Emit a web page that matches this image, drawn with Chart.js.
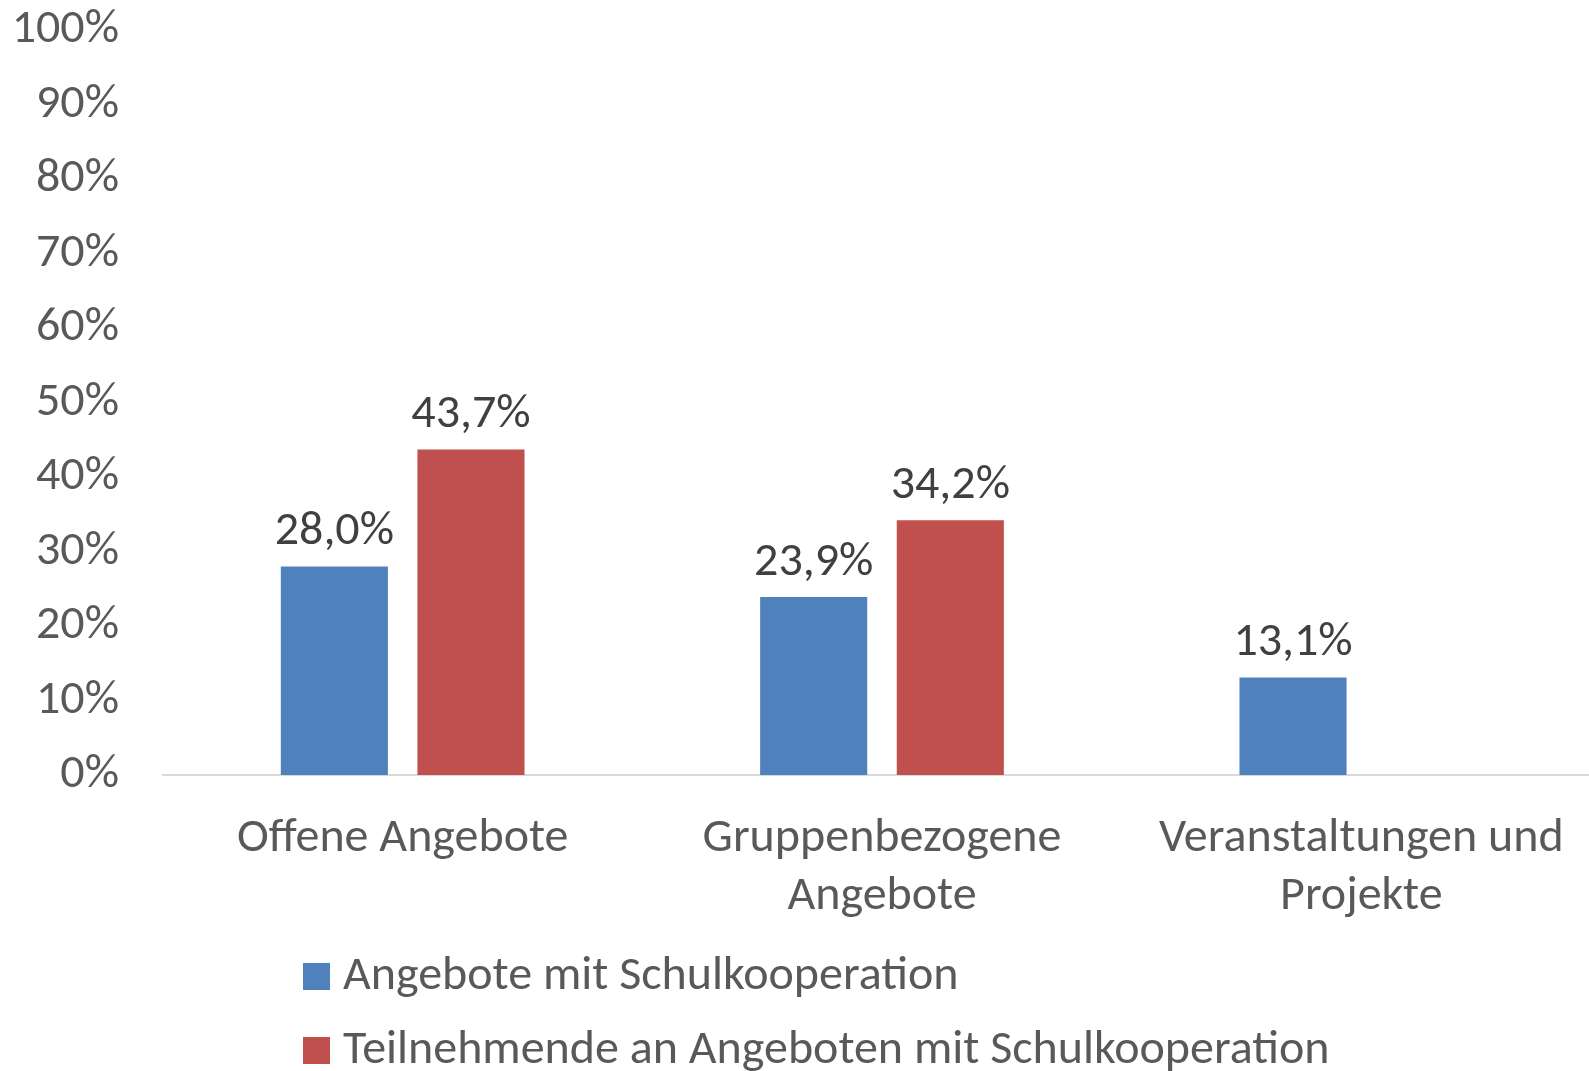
<!DOCTYPE html>
<html>
<head>
<meta charset="utf-8">
<script src="https://cdn.jsdelivr.net/npm/chart.js@4.4.1/dist/chart.umd.min.js"></script>
<style>
  body{margin:0;background:#fff;overflow:hidden;}
  canvas{display:block;}
</style>
</head>
<body>
<canvas id="myChart" width="1601" height="1071"></canvas>
<script>
const categories=["Offene Angebote",["Gruppenbezogene","Angebote"],["Veranstaltungen und","Projekte"]];
const seriesNames=["Angebote mit Schulkooperation","Teilnehmende an Angeboten mit Schulkooperation"];
const schulkooperation=[28.0,23.9,13.1];
const teilnehmende=[43.7,34.2,null];
const yTicks=[0,10,20,30,40,50,60,70,80,90,100];

const fontFamily="Carlito, Calibri, Lato, sans-serif";
const fontSize=48;

// value labels above each bar, german decimal comma
const valueLabels={
  id:'valueLabels',
  afterDatasetsDraw(chart){
    const ctx=chart.ctx;
    ctx.save();
    ctx.font=`${fontSize}px ${fontFamily}`;
    ctx.fillStyle='#404040';
    ctx.textAlign='center';
    ctx.textBaseline='alphabetic';
    chart.data.datasets.forEach((ds,i)=>{
      chart.getDatasetMeta(i).data.forEach((bar,j)=>{
        let v=ds.data[j];
        if(v==null) return;
        ctx.fillText(v.toFixed(1).replace('.',',')+'%',bar.x,bar.y-22);
      });
    });
    ctx.restore();
  }
};

// legend stacked at the bottom left, one item per line
const stackedLegend={
  id:'stackedLegend',
  afterDraw(chart){
    const ctx=chart.ctx;
    ctx.save();
    ctx.font=`${fontSize}px ${fontFamily}`;
    ctx.textBaseline='middle';
    ctx.textAlign='left';
    chart.data.datasets.forEach((ds,i)=>{
      let y=963+i*74;
      ctx.fillStyle=ds.backgroundColor;
      ctx.fillRect(303,y,27,27);
      ctx.fillStyle='#595959';
      ctx.fillText(ds.label,343,y+14);
    });
    ctx.restore();
  }
};

const ctx=document.getElementById('myChart');
new Chart(ctx,{
  type:'bar',
  data:{
    labels:categories,
    datasets:[
      {label:seriesNames[0],data:schulkooperation,backgroundColor:'#4F81BD'},
      {label:seriesNames[1],data:teilnehmende,backgroundColor:'#C0504D'}
    ]
  },
  options:{
    responsive:false,
    animation:false,
    datasets:{bar:{categoryPercentage:0.57,barPercentage:0.784}},
    layout:{padding:{left:13,top:30,right:0,bottom:148}},
    plugins:{legend:{display:false},tooltip:{enabled:false}},
    scales:{
      x:{
        grid:{display:false},
        border:{display:true,color:'#D9D9D9',width:2},
        afterFit(scale){
          scale.paddingLeft=0;
          scale.paddingRight=0;
          scale.height=148;
        },
        ticks:{
          color:'#595959',
          padding:27,
          maxRotation:0,
          autoSkip:false,
          font:{family:fontFamily,size:fontSize,lineHeight:58/48}
        }
      },
      y:{
        min:0,
        max:100,
        grid:{display:false},
        border:{display:false},
        afterBuildTicks(scale){
          scale.ticks=yTicks.map(v=>({value:v}));
        },
        afterFit(scale){
          scale.width=150;
          scale.paddingTop=0;
          scale.paddingBottom=0;
        },
        ticks:{
          color:'#595959',
          padding:36,
          font:{family:fontFamily,size:fontSize},
          callback:(v)=>v+'%'
        }
      }
    }
  },
  plugins:[valueLabels,stackedLegend]
});
</script>
</body>
</html>
